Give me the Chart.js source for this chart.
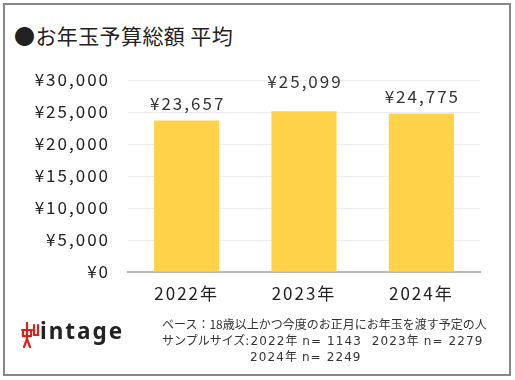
<!DOCTYPE html>
<html><head><meta charset="utf-8">
<script src="https://cdn.jsdelivr.net/npm/chart.js@4.4.1/dist/chart.umd.min.js"></script>
<style>
html,body{margin:0;padding:0;background:#fff;}
#wrap{position:relative;width:515px;height:380px;overflow:hidden;font-family:"Noto Sans CJK JP","Noto Sans",sans-serif;}
#frame{position:absolute;left:3px;top:3px;width:504px;height:369px;border:2px solid #888;box-sizing:content-box;}
#title{position:absolute;left:14px;top:20px;font-size:21px;line-height:30px;color:#222;white-space:nowrap;letter-spacing:0.4px;}
#c{position:absolute;left:0;top:0;}
.note{position:absolute;font-size:12px;line-height:16px;color:#333;white-space:nowrap;}
.lat{font-family:"DejaVu Sans",sans-serif;letter-spacing:1.1px;}
#logotext{position:absolute;left:40px;top:316px;font-family:"Noto Sans","DejaVu Sans",sans-serif;font-weight:700;font-size:22.5px;line-height:30px;color:#222;letter-spacing:2px;}
</style></head>
<body><div id="wrap">
<div id="frame"></div>
<div id="title">●お年玉予算総額 平均</div>
<canvas id="c" width="515" height="380"></canvas>
<svg id="logo" viewBox="0 0 20 26" style="position:absolute;left:20px;top:322px;width:20px;height:26px;">
 <g stroke="#e0201b" stroke-width="2.2" fill="none" stroke-linecap="round">
  <path d="M7 1 L7 8"/>
  <path d="M2 8 L12 8"/>
  <path d="M3 8 L3 14"/>
  <path d="M11 8 L11 14"/>
  <path d="M3 14 L11 14"/>
  <path d="M7 8 L7 17 L4 25"/>
  <path d="M7 17 L10 25"/>
  <path d="M14 3 L14 13 L18 13 L18 3"/>
 </g>
</svg>
<div id="logotext">intage</div>
<div class="note" style="left:162px;top:316px;">ベース：18歳以上かつ今度のお正月にお年玉を渡す予定の人</div>
<div class="note" style="left:162px;top:332px;">サンプルサイズ<span class="lat">:2022</span>年<span class="lat"> n= 1143&nbsp;&nbsp;2023</span>年<span class="lat"> n= 2279</span></div>
<div class="note" style="left:250px;top:348px;"><span class="lat">2024</span>年<span class="lat"> n= 2249</span></div>
</div>
<script>
const categories = ["2022年", "2023年", "2024年"];
const budgetAvg = [23657, 25099, 24775];
const yTicks = [0, 5000, 10000, 15000, 20000, 25000, 30000];

const yen = v => "¥" + v.toLocaleString("en-US");
const FONT = '"Noto Sans CJK JP", "Noto Sans", sans-serif';

const spacing = {
  id: "spacing",
  beforeDraw(chart) { chart.ctx.letterSpacing = "2px"; }
};

const valueLabels = {
  id: "valueLabels",
  afterDatasetsDraw(chart, args, opts) {
    const ctx = chart.ctx;
    const meta = chart.getDatasetMeta(0);
    ctx.save();
    ctx.letterSpacing = "2px";
    ctx.font = '17px ' + FONT;
    ctx.fillStyle = "#333";
    ctx.textAlign = "center";
    ctx.textBaseline = "middle";
    meta.data.forEach((bar, i) => {
      const off = (opts.offsets && opts.offsets[i]) || 17;
      ctx.fillText(yen(budgetAvg[i]), bar.x + 1, bar.y - off);
    });
    ctx.restore();
  }
};

new Chart(document.getElementById("c"), {
  type: "bar",
  data: {
    labels: categories,
    datasets: [{
      data: budgetAvg,
      backgroundColor: "#FFD24A",
      categoryPercentage: 1.0,
      barPercentage: 0.555
    }]
  },
  options: {
    responsive: false,
    animation: false,
    layout: { padding: { top: 80, right: 35, left: 0, bottom: 0 } },
    plugins: {
      legend: { display: false },
      tooltip: { enabled: false },
      valueLabels: { offsets: [17, 30, 17] }
    },
    scales: {
      x: {
        grid: { display: false, drawTicks: false },
        border: { display: true, color: "#bbb", width: 2 },
        ticks: {
          color: "#222",
          padding: 11,
          font: { family: FONT, size: 17 }
        },
        afterFit(scale) { scale.height = 108; }
      },
      y: {
        min: 0, max: 30000,
        afterBuildTicks(scale) { scale.ticks = yTicks.map(v => ({ value: v })); },
        grid: { color: "#ececec", lineWidth: 1, drawTicks: false },
        border: { display: false },
        ticks: {
          color: "#222",
          padding: 18,
          font: { family: FONT, size: 17 },
          callback: v => yen(v)
        },
        afterFit(scale) { scale.width = 128; }
      }
    }
  },
  plugins: [spacing, valueLabels]
});
</script>
</body></html>
